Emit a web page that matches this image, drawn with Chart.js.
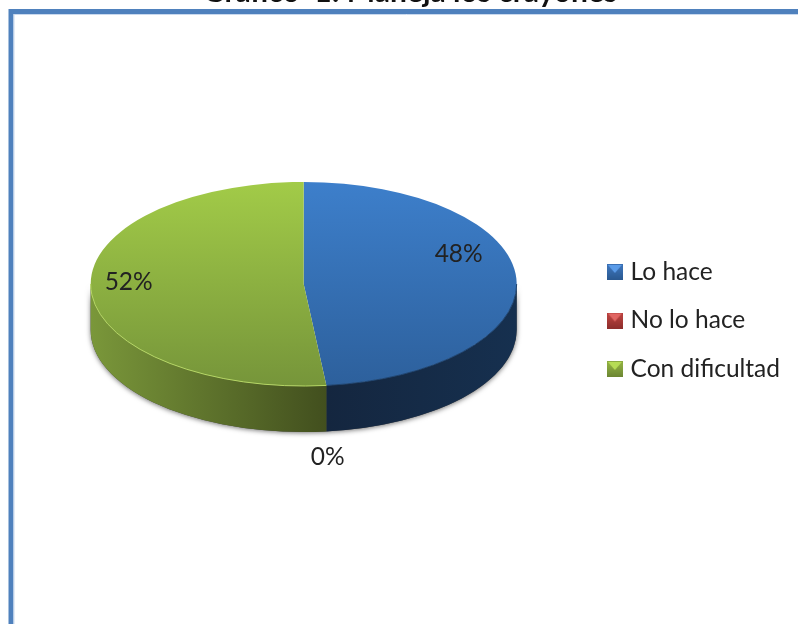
<!DOCTYPE html>
<html>
<head>
<meta charset="utf-8">
<title>Gráfico 1</title>
<script src="https://cdn.jsdelivr.net/npm/chart.js@4/dist/chart.umd.min.js"></script>
<style>
    html, body { margin: 0; padding: 0; background: #fff; overflow: hidden; }
    canvas { display: block; filter: blur(0.5px); }
</style>
</head>
<body>
<canvas id="pie-chart" width="798" height="624"></canvas>
<script>
const titleText = "Gráfico  1: Maneja los crayones";
const categories = ["Lo hace", "No lo hace", "Con dificultad"];
const values = [48.3, 0, 51.7];

const topLight = ["#3d7fcb", "#c0504d", "#a2cb48"];
const topDark = ["#2d609c", "#943634", "#76953a"];
const wallLight = ["#14263f", "#632523", "#7a973a"];
const wallDark = ["#16304f", "#4a1a19", "#424f1e"];
const markerColors = [
    ["#5a9be8", "#3a70b4", "#2a5890"],
    ["#e06562", "#b5403d", "#8e2e2c"],
    ["#b6dc55", "#8cab40", "#6c8633"]
];

const rimColors = ["#1f4470", "#7a2a28", "#b5d664"];
const labelOffsets = [[155, -30], [24, 173], [-175, -2]];

// the pie is laid out as a circle, then squashed onto the tilted face
const pieCenterY = 284;
const radius = 213;
const squash = 0.479;
const depth = 46;

function makeMarker(c) {
    let m = document.createElement("canvas");
    m.width = 16;
    m.height = 16;
    let g = m.getContext("2d");
    let grad = g.createLinearGradient(0, 4, 0, 16);
    grad.addColorStop(0, c[1]);
    grad.addColorStop(1, c[2]);
    g.fillStyle = grad;
    g.fillRect(0, 0, 16, 16);
    g.fillStyle = c[0];
    g.beginPath();
    g.moveTo(1, 1);
    g.lineTo(15, 1);
    g.lineTo(8, 9);
    g.fill();
    return m;
}

function piece(ctx, x, y, a0, a1) {
    ctx.beginPath();
    ctx.ellipse(x, y, radius, radius * squash, 0, a0, a1);
    ctx.ellipse(x, y + depth, radius, radius * squash, 0, a1, a0, true);
    ctx.closePath();
}

const tiltPlugin = {
    id: "tilt",
    beforeDraw(chart) {
        let ctx = chart.ctx;
        ctx.save();
        ctx.fillStyle = "#fff";
        ctx.fillRect(0, 0, 798, 624);
        ctx.strokeStyle = "#4f81bd";
        ctx.lineWidth = 5;
        ctx.beginPath();
        ctx.moveTo(11, 630);
        ctx.lineTo(11, 11.5);
        ctx.lineTo(804, 11.5);
        ctx.stroke();
        ctx.strokeStyle = "#c9d9ee";
        ctx.lineWidth = 1;
        ctx.beginPath();
        ctx.moveTo(14, 630);
        ctx.lineTo(14, 14.5);
        ctx.lineTo(804, 14.5);
        ctx.stroke();
        ctx.fillStyle = "#111";
        ctx.font = "bold 30px Lato";
        ctx.textAlign = "center";
        ctx.textBaseline = "alphabetic";
        ctx.fillText(titleText, 410, 2);
        ctx.restore();
    },
    beforeDatasetsDraw(chart) {
        let ctx = chart.ctx;
        let arcs = chart.getDatasetMeta(0).data;
        let cx = arcs[0].x;

        // soft shadow under the wall
        ctx.save();
        ctx.shadowColor = "rgba(0,0,0,0.55)";
        ctx.shadowBlur = 5;
        ctx.shadowOffsetY = 1;
        ctx.fillStyle = "#444";
        piece(ctx, cx, pieCenterY, 0, Math.PI);
        ctx.fill();
        ctx.restore();

        // walls of the slices that face the viewer
        arcs.forEach(function (arc, i) {
            let a0 = Math.max(arc.startAngle, 0);
            let a1 = Math.min(arc.endAngle, Math.PI);
            if (a1 <= a0) {
                return;
            }
            let x0 = cx + radius * Math.cos(a1);
            let x1 = cx + radius * Math.cos(a0);
            let grad = ctx.createLinearGradient(x0, 0, x1, 0);
            grad.addColorStop(0, wallLight[i]);
            grad.addColorStop(1, wallDark[i]);
            ctx.fillStyle = grad;
            piece(ctx, cx, pieCenterY, a0, a1);
            ctx.fill();
        });

        ctx.save();
        ctx.translate(cx, pieCenterY);
        ctx.scale(1, squash);
        ctx.translate(-cx, -arcs[0].y);
    },
    afterDatasetsDraw(chart) {
        let ctx = chart.ctx;
        ctx.restore();
        let arcs = chart.getDatasetMeta(0).data;
        let cx = arcs[0].x;

        // rim highlight along the front edge
        ctx.save();
        ctx.lineWidth = 1;
        arcs.forEach(function (arc, i) {
            let a0 = Math.max(arc.startAngle, 0);
            let a1 = Math.min(arc.endAngle, Math.PI);
            if (a1 <= a0) {
                return;
            }
            ctx.strokeStyle = rimColors[i];
            ctx.beginPath();
            ctx.ellipse(cx, pieCenterY, radius, radius * squash, 0, a0, a1);
            ctx.stroke();
        });
        ctx.restore();

        // percentage labels
        let total = values.reduce(function (a, b) { return a + b; }, 0);
        ctx.save();
        ctx.fillStyle = "#222";
        ctx.font = "24.5px Lato";
        ctx.textAlign = "center";
        ctx.textBaseline = "middle";
        values.forEach(function (v, i) {
            let text = Math.round(v / total * 100) + "%";
            ctx.fillText(text, cx + labelOffsets[i][0], pieCenterY + labelOffsets[i][1]);
        });
        ctx.restore();
    }
};

new Chart(document.getElementById("pie-chart"), {
    type: "pie",
    data: {
        labels: categories,
        datasets: [{
            data: values,
            borderWidth: 0,
            radius: radius,
            backgroundColor: function (c) {
                let area = c.chart.chartArea;
                if (!area) {
                    return topLight[c.dataIndex];
                }
                let mid = (area.top + area.bottom) / 2;
                let grad = c.chart.ctx.createLinearGradient(0, mid - radius, 0, mid + radius);
                grad.addColorStop(0, topLight[c.dataIndex]);
                grad.addColorStop(1, topDark[c.dataIndex]);
                return grad;
            }
        }]
    },
    options: {
        responsive: false,
        animation: false,
        layout: {
            padding: { left: 20, right: 8, top: 17, bottom: 0 }
        },
        plugins: {
            tooltip: { enabled: false },
            legend: {
                position: "right",
                labels: {
                    color: "#222",
                    font: { family: "Lato", size: 24.5 },
                    usePointStyle: true,
                    boxWidth: 7,
                    boxHeight: 16,
                    padding: 24,
                    generateLabels: function (chart) {
                        let items = Chart.overrides.pie.plugins.legend.labels.generateLabels(chart);
                        items.forEach(function (item, i) {
                            item.pointStyle = makeMarker(markerColors[i]);
                        });
                        return items;
                    }
                }
            }
        }
    },
    plugins: [tiltPlugin]
});
</script>
</body>
</html>
